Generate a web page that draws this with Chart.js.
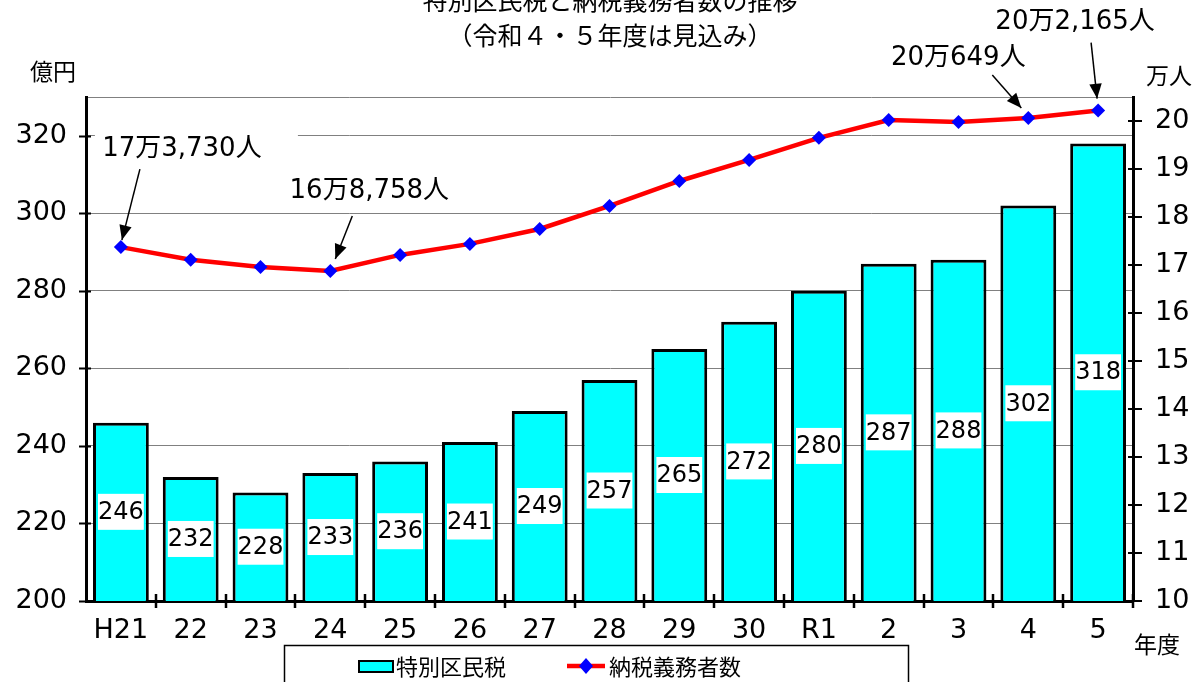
<!DOCTYPE html>
<html lang="ja">
<head>
<meta charset="utf-8">
<title>特別区民税と納税義務者数の推移</title>
<script src="https://cdn.jsdelivr.net/npm/chart.js@4"></script>
<style>
  html, body { margin: 0; padding: 0; background: #fff; }
  #wrap { width: 1204px; height: 682px; }
</style>
</head>
<body>
<div id="wrap"><canvas id="chart" width="1204" height="682"></canvas></div>
<script>
// data
const years = ["H21", "22", "23", "24", "25", "26", "27", "28", "29", "30", "R1", "2", "3", "4", "5"];
const taxValues = [246, 232, 228, 233, 236, 241, 249, 257, 265, 272, 280, 287, 288, 302, 318];
const taxpayers = [17.373, 17.11, 16.96, 16.8758, 17.21, 17.44, 17.75, 18.23, 18.75, 19.19, 19.65, 20.02, 19.98, 20.0649, 20.2165];
const leftTicks = [200, 220, 240, 260, 280, 300, 320];
const leftMax = 330;
const rightTicks = [10, 11, 12, 13, 14, 15, 16, 17, 18, 19, 20];
const rightMax = 20.5;
const calloutIndex = [0, 3, 13, 14];
const calloutText = ["17万3,730人", "16万8,758人", "20万649人", "20万2,165人"];

const FONT = "'DejaVu Sans', 'Noto Sans CJK JP', sans-serif";
const JP = "'Noto Sans CJK JP', sans-serif";

// offsets from the point, in px: [textDx, textDy, fromDx, fromDy, toDx, toDy, boxLeft, boxRight]
const calloutLayout = [
    [61, -98, 19, -78, 1, -7, -26, 177],
    [39, -80, 22, -55, 5, -12, 0, 0],
    [-70, -60, -36, -43, -7, -10, 0, 0],
    [-23, -88, -7, -68, -1, -12, 0, 0]
];

function arrow(ctx, fx, fy, tx, ty) {
    ctx.lineWidth = 1.5;
    ctx.beginPath();
    ctx.moveTo(fx, fy); ctx.lineTo(tx, ty);
    ctx.stroke();
    const ang = Math.atan2(ty - fy, tx - fx);
    ctx.beginPath();
    ctx.moveTo(tx, ty);
    ctx.lineTo(tx - 16 * Math.cos(ang - 0.4), ty - 16 * Math.sin(ang - 0.4));
    ctx.lineTo(tx - 16 * Math.cos(ang + 0.4), ty - 16 * Math.sin(ang + 0.4));
    ctx.closePath();
    ctx.fill();
}

const extras = {
    id: "extras",
    afterDraw(chart) {
        const ctx = chart.ctx;
        const x = chart.scales.x, y = chart.scales.y, y1 = chart.scales.y1;
        const area = chart.chartArea;
        ctx.save();

        // tick marks crossing the axes
        ctx.strokeStyle = "#000";
        ctx.lineWidth = 2;
        ctx.beginPath();
        leftTicks.forEach(v => {
            const py = Math.round(y.getPixelForValue(v)) + 0.5;
            ctx.moveTo(area.left - 7, py); ctx.lineTo(area.left + 5, py);
        });
        rightTicks.forEach(v => {
            const py = Math.round(y1.getPixelForValue(v));
            ctx.moveTo(area.right - 5, py); ctx.lineTo(area.right + 9, py);
        });
        ctx.stroke();
        ctx.lineWidth = 2.5;
        ctx.beginPath();
        const step = x.getPixelForValue(1) - x.getPixelForValue(0);
        for (let i = 0; i < years.length; i++) {
            const px = Math.round(x.getPixelForValue(i) + step / 2);
            ctx.moveTo(px, area.bottom - 7); ctx.lineTo(px, area.bottom + 7);
        }
        ctx.stroke();

        // bar value labels on white boxes, centred in the bar
        ctx.font = "24px " + FONT;
        ctx.textAlign = "center";
        ctx.textBaseline = "middle";
        const base = y.getPixelForValue(y.min);
        taxValues.forEach((v, i) => {
            const txt = String(v);
            const cx = x.getPixelForValue(i);
            const cy = (y.getPixelForValue(v) + base) / 2;
            const w = ctx.measureText(txt).width;
            ctx.fillStyle = "#fff";
            ctx.fillRect(cx - w / 2, cy - 18, w, 36);
            ctx.fillStyle = "#000";
            ctx.fillText(txt, cx, cy + 1);
        });

        // callouts with arrows
        ctx.font = "26px " + FONT;
        calloutIndex.forEach((idx, k) => {
            const px = x.getPixelForValue(idx);
            const py = y1.getPixelForValue(taxpayers[idx]);
            const L = calloutLayout[k];
            if (L[7] > L[6]) {
                ctx.fillStyle = "#fff";
                ctx.fillRect(px + L[6], py + L[1] - 22, L[7] - L[6], 44);
            }
            ctx.fillStyle = "#000";
            ctx.fillText(calloutText[k], px + L[0], py + L[1]);
            arrow(ctx, px + L[2], py + L[3], px + L[4], py + L[5]);
        });

        // title (top line is cut off by the frame)
        ctx.font = "25px " + JP;
        ctx.fillText("特別区民税と納税義務者数の推移", 610, 0);
        ctx.fillText("（令和４・５年度は見込み）", 610, 35);

        // axis titles
        ctx.font = "23px " + JP;
        ctx.fillText("億円", 53, 71);
        ctx.fillText("万人", 1169, 75);
        ctx.fillText("年度", 1157, 644);

        // legend
        ctx.strokeStyle = "#000";
        ctx.lineWidth = 1.5;
        ctx.strokeRect(284.5, 645.5, 624, 60);
        ctx.fillStyle = "#00ffff";
        ctx.fillRect(359, 661, 34, 11);
        ctx.lineWidth = 2;
        ctx.strokeRect(359, 661, 34, 11);
        ctx.font = "22px " + JP;
        ctx.textAlign = "left";
        ctx.fillStyle = "#000";
        ctx.fillText("特別区民税", 396, 667);
        ctx.strokeStyle = "#ff0000";
        ctx.lineWidth = 4.5;
        ctx.beginPath();
        ctx.moveTo(567, 666); ctx.lineTo(605, 666);
        ctx.stroke();
        ctx.fillStyle = "#0000ff";
        ctx.beginPath();
        ctx.moveTo(586, 658); ctx.lineTo(593, 666); ctx.lineTo(586, 674); ctx.lineTo(579, 666);
        ctx.closePath();
        ctx.fill();
        ctx.fillStyle = "#000";
        ctx.fillText("納税義務者数", 609, 667);

        ctx.restore();
    }
};

new Chart(document.getElementById("chart").getContext("2d"), {
    type: "bar",
    data: {
        labels: years,
        datasets: [
            {
                label: "特別区民税",
                data: taxValues,
                yAxisID: "y",
                backgroundColor: "#00ffff",
                borderColor: "#000",
                borderWidth: 3,
                barPercentage: 0.8,
                categoryPercentage: 1,
                order: 2
            },
            {
                type: "line",
                label: "納税義務者数",
                data: taxpayers,
                yAxisID: "y1",
                borderColor: "#ff0000",
                borderWidth: 4.5,
                pointStyle: "rectRot",
                pointRadius: 7,
                pointBackgroundColor: "#0000ff",
                pointBorderColor: "#0000ff",
                pointBorderWidth: 0,
                tension: 0,
                order: 1
            }
        ]
    },
    options: {
        responsive: false,
        animation: false,
        layout: { padding: { top: 97, left: 0, right: 0, bottom: 0 } },
        plugins: { legend: { display: false }, tooltip: { enabled: false } },
        scales: {
            x: {
                grid: { display: false, drawTicks: false },
                border: { color: "#000", width: 3 },
                ticks: { color: "#000", font: { family: FONT, size: 27 }, padding: 14, maxRotation: 0 },
                afterFit: s => { s.height = 81; }
            },
            y: {
                position: "left",
                min: 200,
                max: leftMax,
                afterBuildTicks: s => { s.ticks = leftTicks.concat([leftMax]).map(v => ({ value: v })); },
                grid: { color: "#808080", lineWidth: 1, drawTicks: false },
                border: { color: "#000", width: 3 },
                ticks: {
                    color: "#000", font: { family: FONT, size: 27 }, padding: 19,
                    callback: v => leftTicks.includes(v) ? v : ""
                },
                afterFit: s => { s.width = 86; }
            },
            y1: {
                position: "right",
                min: 10,
                max: rightMax,
                afterBuildTicks: s => { s.ticks = rightTicks.map(v => ({ value: v })); },
                grid: { drawOnChartArea: false, drawTicks: false },
                border: { color: "#000", width: 3 },
                ticks: { color: "#000", font: { family: FONT, size: 27 }, padding: 22 },
                afterFit: s => { s.width = 71; }
            }
        }
    },
    plugins: [extras]
});
</script>
</body>
</html>
